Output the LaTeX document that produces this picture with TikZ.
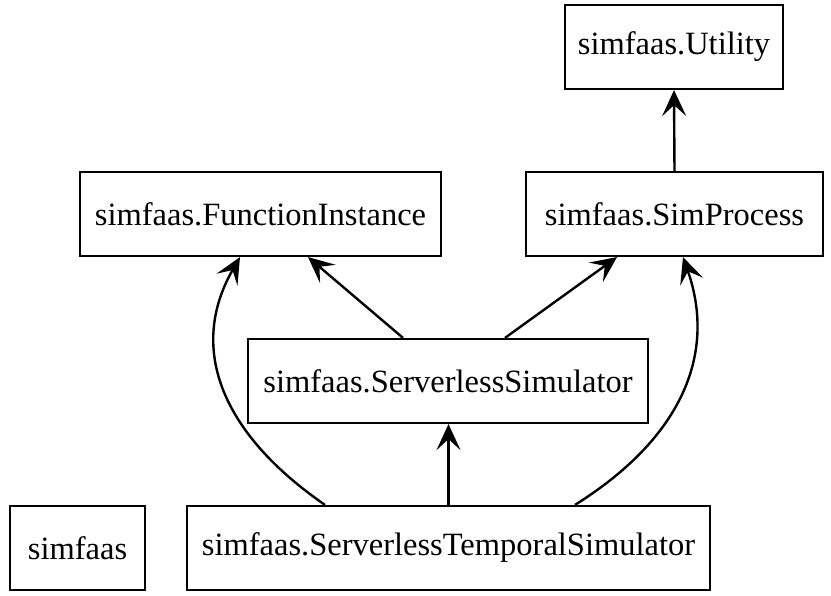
\documentclass[tikz,border=0pt]{standalone}
\usepackage{fontspec}
\setmainfont{Liberation Serif}
\usetikzlibrary{arrows.meta}
\begin{document}
\begin{tikzpicture}[x=1pt,y=1pt,
  box/.style={draw,line width=2.2pt,inner sep=0pt,minimum height=84pt,font=\fontsize{32.5}{38}\selectfont},
  dep/.style={line width=2.4pt,-{Stealth[length=26pt,width=24pt,inset=11pt]}}]
\useasboundingbox (0,0) rectangle (831,596);
\node[box,minimum width=218pt] (util) at (674,549) {simfaas.Utility};
\node[box,minimum width=361pt] (fi) at (260.5,382) {simfaas.FunctionInstance};
\node[box,minimum width=297pt] (sp) at (674.5,382) {simfaas.SimProcess};
\node[box,minimum width=400pt] (ss) at (448,215) {simfaas.ServerlessSimulator};
\node[box,minimum width=135pt] (sf) at (77.5,48) {simfaas};
\node[box,minimum width=523pt] (sts) at (448.5,48) {simfaas.ServerlessTemporalSimulator};
\draw[dep] (sp.north) -- (util.south);
\draw[dep] (ss.north -| 403,0) -- (fi.south -| 308,0);
\draw[dep] (ss.north -| 505,0) -- (sp.south -| 617,0);
\draw[dep] (sts.north -| 448.5,0) -- (ss.south -| 448.5,0);
\draw[dep] (sts.north -| 325,0) .. controls (225,160) and (186,245) .. (fi.south -| 240,0);
\draw[dep] (sts.north -| 575,0) .. controls (685,160) and (716,245) .. (sp.south -| 683,0);
\end{tikzpicture}
\end{document}
